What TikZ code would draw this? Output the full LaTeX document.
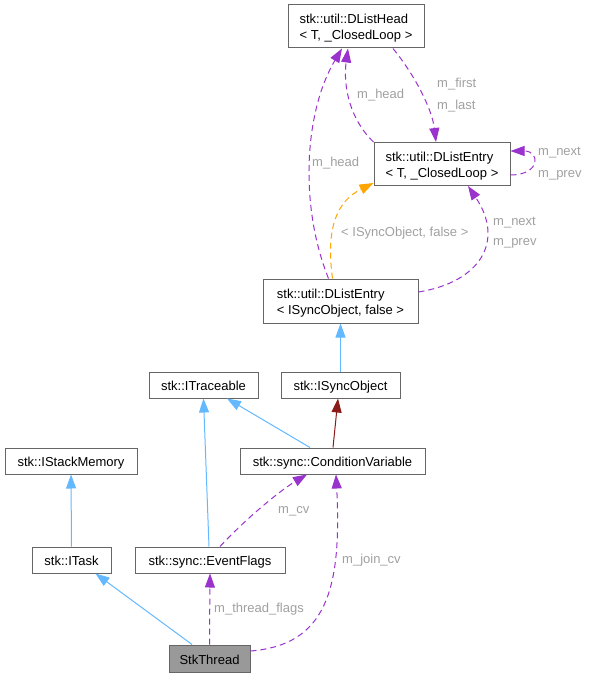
\documentclass[tikz,border=0pt]{standalone}
\usepackage{fontspec}
\setmainfont{Liberation Sans}
\usepackage{xcolor}
\usepackage{tikz}
\usetikzlibrary{positioning, arrows.meta, calc}

\definecolor{boxgray}{HTML}{666666}
\definecolor{inhblue}{HTML}{63B8FF}
\definecolor{usepurple}{HTML}{9A32CD}
\definecolor{tplorange}{HTML}{FFA500}
\definecolor{privred}{HTML}{8B1A1A}
\definecolor{lblgray}{HTML}{A0A0A0}

\begin{document}
\begin{tikzpicture}[x=1pt, y=-1pt,
klass/.style={rectangle, draw=boxgray, line width=1pt, fill=white, inner sep=0pt, minimum height=26pt, text height=11pt, text depth=0pt, font=\fontsize{13}{16}\selectfont},
twoline/.style={rectangle, draw=boxgray, line width=1pt, fill=white, inner sep=0pt, minimum height=43pt, align=left, font=\fontsize{13}{16}\selectfont},
current/.style={klass, fill=black!40},
tip/.style={-{Triangle[length=14pt, width=10pt]}},
inherit/.style={draw=inhblue, line width=1pt, tip},
privinh/.style={draw=privred, line width=1pt, tip},
member/.style={draw=usepurple, line width=1pt, dash pattern=on 6pt off 4pt, tip},
templ/.style={draw=tplorange, line width=1pt, dash pattern=on 6pt off 4pt, tip},
lbl/.style={text=lblgray, inner sep=0pt, anchor=west, font=\fontsize{13}{16}\selectfont}]
    \useasboundingbox (0,0) rectangle (590,677);

    % classes
    \node[twoline, minimum width=136pt] (dlh) at (356,26.5) {\rule{0pt}{13.5pt}stk::util::DListHead\\< T, \_ClosedLoop >};
    \node[twoline, minimum width=136pt] (dlet) at (442,164) {\rule{0pt}{13.5pt}stk::util::DListEntry\\< T, \_ClosedLoop >};
    \node[twoline, minimum width=155pt, minimum height=44pt] (dlei) at (340.5,301) {\rule{0pt}{13.5pt}stk::util::DListEntry\\< ISyncObject, false >};
    \node[klass, minimum width=109pt] (itrace) at (203.5,385) {stk::ITraceable};
    \node[klass, minimum width=119pt] (isync) at (340.5,385) {stk::ISyncObject};
    \node[klass, minimum width=132pt] (istack) at (71,461) {stk::IStackMemory};
    \node[klass, minimum width=185pt] (condvar) at (332.5,461) {stk::sync::ConditionVariable};
    \node[klass, minimum width=79pt] (itask) at (71.5,560) {stk::ITask};
    \node[klass, minimum width=150pt] (evflags) at (210,560) {stk::sync::EventFlags};
    \node[current, minimum width=81pt, minimum height=27pt] (thread) at (209.5,658.5) {StkThread};

    % inheritance
    \draw[inherit] (isync.north) -- (dlei.south);
    \draw[privinh] ([xshift=0.5pt]condvar.north) -- ([xshift=-2.5pt]isync.south);
    \draw[inherit] ([xshift=-22.5pt]condvar.north) -- ([xshift=23.5pt]itrace.south);
    \draw[inherit] ([xshift=-1pt]evflags.north) -- (itrace.south);
    \draw[inherit] (itask.north) -- (istack.south);
    \draw[inherit] ([xshift=-17.5pt]thread.north) -- ([xshift=24pt]itask.south);

    % template instance
    \draw[templ] ([xshift=-8pt]dlei.north) .. controls +(-7,-52) and +(-36,18) .. ([yshift=3pt]dlet.south west);
    \node[lbl] (ltpl) at (341,233) {< ISyncObject, false >};

    % members
    \draw[member] ([xshift=37pt]dlh.south) .. controls +(22,27) and +(-4,-33) .. ([xshift=-6pt]dlet.north);
    \node[lbl] (lfirst) at (437,84) {m\_first};
    \node[lbl] (llast) at (437,106) {m\_last};

    \draw[member] (dlet.north west) .. controls +(-24,-23) and +(-5,37) .. ([xshift=-8pt]dlh.south);
    \node[lbl] (lheadin) at (357,95) {m\_head};

    \draw[member] ([xshift=-12pt]dlei.north) .. controls +(-30,-75) and +(-37,62) .. ([xshift=-14pt]dlh.south);
    \node[lbl] (lheadout) at (312,163) {m\_head};

    \draw[member] ([yshift=9pt]dlei.east) .. controls +(62,-10) and +(37,55) .. ([xshift=26pt]dlet.south);
    \node[lbl] (lnext) at (493,223) {m\_next};
    \node[lbl] (lprev) at (493,243) {m\_prev};

    \draw[member] ([yshift=-11pt]dlet.east) .. controls +(30,0) and +(30,0) .. ([yshift=13pt]dlet.east);
    \node[lbl] (lnexts) at (538,153) {m\_next};
    \node[lbl] (lprevs) at (538,175) {m\_prev};

    \draw[member] ([xshift=10pt]evflags.north) .. controls +(25,-27) and +(-27,16) .. ([xshift=-25.5pt]condvar.south);
    \node[lbl] (lcv) at (278,511) {m\_cv};

    \draw[member] (thread.north) -- (evflags.south);
    \node[lbl] (lflags) at (214,609) {m\_thread\_flags};

    \draw[member] ([yshift=7.5pt]thread.east) .. controls +(75,-6) and +(6,116) .. ([xshift=3.5pt]condvar.south);
    \node[lbl] (ljoin) at (342,560) {m\_join\_cv};

\end{tikzpicture}
\end{document}
